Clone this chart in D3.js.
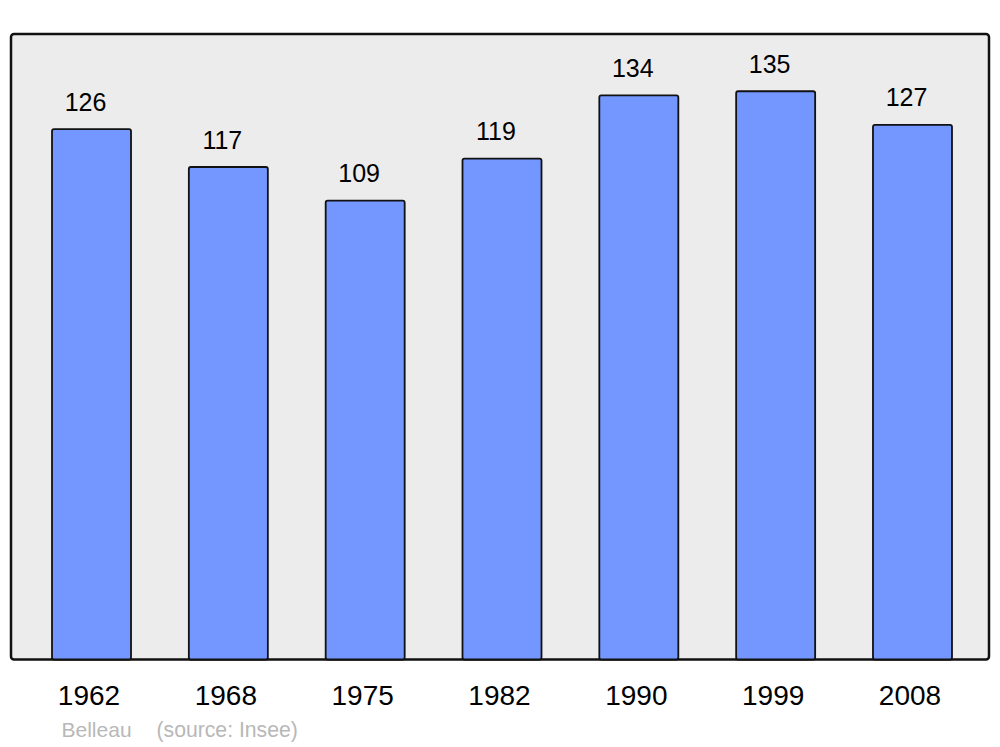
<!DOCTYPE html>
<html>
<head>
<meta charset="utf-8">
<script src="https://cdn.jsdelivr.net/npm/d3@7"></script>
<style>
  body { margin: 0; background: #fff; }
  svg { display: block; font-family: "Liberation Sans", Arial, sans-serif; }
</style>
</head>
<body>
<div id="chart"></div>
<script>
var years = ['1962', '1968', '1975', '1982', '1990', '1999', '2008']
var population = [126, 117, 109, 119, 134, 135, 127]
var place = 'Belleau'
var source = '(source: Insee)'

var width = 1000,
    height = 747
var frame = { left: 11, top: 34, right: 989, bottom: 659.5 }

var svg = d3.select('#chart').append('svg')
    .attr('width', width)
    .attr('height', height)

// plot area
svg.append('rect')
    .attr('x', frame.left)
    .attr('y', frame.top)
    .attr('width', frame.right - frame.left)
    .attr('height', frame.bottom - frame.top)
    .attr('rx', 3)
    .style('fill', '#ececec')
    .style('stroke', '#111')
    .style('stroke-width', 2.5)

var xScale = d3.scaleBand()
    .domain(years)
    .range([23.1, 980.9])
    .paddingInner(0.4226)
    .paddingOuter(0.2113)

var yScale = d3.scaleLinear()
    .domain([0, 148.6])
    .range([frame.bottom, frame.top])

svg.append('g').selectAll('rect')
    .data(population)
    .enter()
    .append('rect')
    .attr('x', function(d, i) { return xScale(years[i]) })
    .attr('y', function(d) { return yScale(d) })
    .attr('width', xScale.bandwidth())
    .attr('height', function(d) { return frame.bottom - yScale(d) })
    .attr('rx', 2)
    .style('fill', '#7397ff')
    .style('stroke', '#111')
    .style('stroke-width', 1.8)

// value labels
svg.append('g').selectAll('text')
    .data(population)
    .enter()
    .append('text')
    .attr('x', function(d, i) { return xScale(years[i]) + xScale.bandwidth() / 2 - 6 })
    .attr('y', function(d) { return yScale(d) - 18.5 })
    .attr('text-anchor', 'middle')
    .style('font-size', '25px')
    .style('fill', '#000')
    .text(function(d) { return d })

// year labels
svg.append('g').selectAll('text')
    .data(years)
    .enter()
    .append('text')
    .attr('x', function(d) { return xScale(d) + xScale.bandwidth() / 2 - 2.5 })
    .attr('y', 705)
    .attr('text-anchor', 'middle')
    .style('font-size', '28px')
    .style('fill', '#000')
    .text(function(d) { return d })

// footer
svg.append('text')
    .attr('x', 61.5)
    .attr('y', 737)
    .style('font-size', '21px')
    .style('fill', '#b8b8b8')
    .text(place)

svg.append('text')
    .attr('x', 156.5)
    .attr('y', 737)
    .style('font-size', '21.2px')
    .style('fill', '#b8b8b8')
    .text(source)
</script>
</body>
</html>
